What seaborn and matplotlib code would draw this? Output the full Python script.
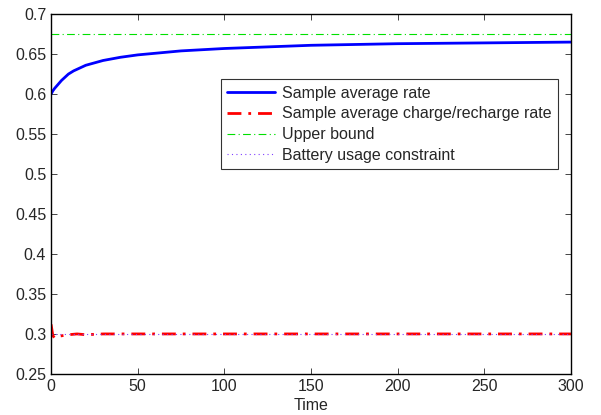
"""
plot.py - sample average rate vs. charge/recharge rate over time
"""

import matplotlib
matplotlib.use("Agg")
import matplotlib.pyplot as plt
import seaborn as sns

# values
t_rate = [0, 1, 2, 4, 6, 8, 10, 13, 16, 20, 25, 30, 40, 50, 60, 75,
          100, 125, 150, 175, 200, 250, 300]
rate = [0.600, 0.604, 0.607, 0.612, 0.617, 0.621, 0.625, 0.629, 0.632,
        0.636, 0.639, 0.642, 0.646, 0.649, 0.651, 0.654, 0.657, 0.659,
        0.661, 0.662, 0.663, 0.664, 0.665]

t_charge = [0, 1, 2, 4, 7, 10, 15, 20, 30, 50, 75, 100, 150, 200, 250, 300]
charge = [0.312, 0.298, 0.295, 0.297, 0.298, 0.299, 0.300, 0.299, 0.300,
          0.300, 0.300, 0.300, 0.300, 0.300, 0.300, 0.300]

t_const = [0, 300]
upper_bound = [0.675, 0.675]
battery_constraint = [0.3, 0.3]

labels = ["Sample average rate", "Sample average charge/recharge rate",
          "Upper bound", "Battery usage constraint"]
x_ticks = [0, 50, 100, 150, 200, 250, 300]
y_ticks = [0.25, 0.3, 0.35, 0.4, 0.45, 0.5, 0.55, 0.6, 0.65, 0.7]

sns.set_style("ticks")
plt.rcParams["font.family"] = ["Liberation Sans", "DejaVu Sans"]

fig = plt.figure(figsize=(6.01, 4.15), dpi=100)
ax = fig.add_axes([0.085, 0.099, 0.865, 0.867])

sns.lineplot(x=t_rate, y=rate, ax=ax, color="#0000ff", linewidth=2.0,
             label=labels[0])
sns.lineplot(x=t_charge, y=charge, ax=ax, color="#ff0000", linewidth=2.0,
             linestyle=(0, (5, 2.5, 1, 2.5)), label=labels[1])
sns.lineplot(x=t_const, y=upper_bound, ax=ax, color="#00e000", linewidth=0.8,
             linestyle=(0, (7, 3, 1, 3)), label=labels[2])
sns.lineplot(x=t_const, y=battery_constraint, ax=ax, color="#8040ff",
             linewidth=0.8, linestyle=(0, (1, 3)), label=labels[3])

ax.set_xlim(0, 300)
ax.set_ylim(0.25, 0.7)
ax.set_xticks(x_ticks)
ax.set_yticks(y_ticks)
ax.set_yticklabels([f"{v:g}" for v in y_ticks])
ax.set_xlabel("Time", fontsize=11.5, labelpad=3)
ax.tick_params(direction="in", top=True, right=True, labelsize=11.5,
               length=4, width=0.6)
for sp in ax.spines.values():
    sp.set_linewidth(1.0)
    sp.set_color("black")

leg = ax.legend(loc="upper right", bbox_to_anchor=(0.976, 0.819),
                fontsize=11.5, handlelength=3.0, frameon=True, fancybox=False,
                borderpad=0.4, labelspacing=0.36, handletextpad=0.45,
                borderaxespad=0)
leg.get_frame().set_edgecolor("black")
leg.get_frame().set_linewidth(0.8)

plt.savefig("out.png", dpi=100)
